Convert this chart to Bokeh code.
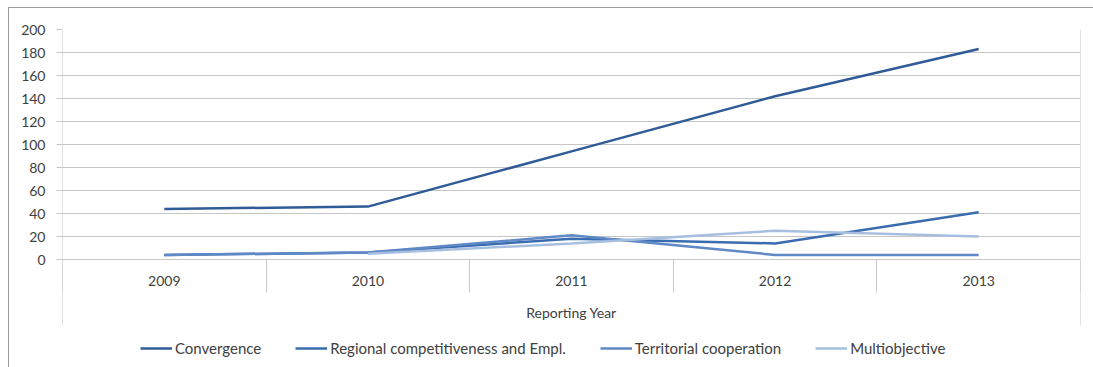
from bokeh.plotting import figure
from bokeh.models import Range1d, FixedTicker, Legend, LegendItem, LinearAxis
from bokeh.embed import file_html
from bokeh.resources import INLINE

years = ["2009", "2010", "2011", "2012", "2013"]
convergence = [44, 46, 94, 142, 183]
regional = [4, 6, 18, 14, 41]
territorial = [4, 6, 21, 4, 4]
multiobjective = [None, 5, 14, 25, 20]
series_names = ["Convergence", "Regional competitiveness and Empl.",
                "Territorial cooperation", "Multiobjective"]
series_colors = ["#2F5B97", "#3A6CB0", "#5F88C6", "#A6BFE0"]
y_ticks = [0, 20, 40, 60, 80, 100, 120, 140, 160, 180, 200]

FONT = "Lato"
GRID = "#C6C6C6"
TXT = "#404040"

# layout (pixels)
PLOT_H = 230          # height of the 0..200 value area
BELOW_H = 108         # category box + legend below the zero line
BOX_H = 66            # depth of the category box below zero
px_per_unit = PLOT_H / y_ticks[-1]
y_low = -BELOW_H / px_per_unit
box_low = -BOX_H / px_per_unit

xs = [i + 0.5 for i in range(len(years))]
n = len(years)

p = figure(frame_width=1018, frame_height=PLOT_H + BELOW_H, output_backend="svg",
           toolbar_location=None,
           x_range=Range1d(0, n), y_range=Range1d(y_low, y_ticks[-1]),
           min_border_left=53, min_border_top=21, min_border_right=13,
           min_border_bottom=0,
           x_axis_location=None, y_axis_location=None)
p.styles = {"margin-top": "7px", "margin-left": "8px",
            "border-top": "1px solid #9a9a9a", "border-left": "1px solid #9a9a9a"}
p.outline_line_color = None
p.xgrid.visible = False

yax = LinearAxis(ticker=FixedTicker(ticks=y_ticks))
yax.axis_line_color = None
yax.major_tick_line_color = GRID
yax.major_tick_out = 6
yax.major_tick_in = 0
yax.minor_tick_line_color = None
yax.major_label_standoff = 11
yax.major_label_text_font = FONT
yax.major_label_text_font_size = "14px"
yax.major_label_text_color = TXT
p.add_layout(yax, "left")

p.ygrid.ticker = FixedTicker(ticks=y_ticks)
p.ygrid.grid_line_color = GRID

# left and right edges of the chart box
p.segment(x0=[0, n], y0=[y_ticks[-1]] * 2, x1=[0, n], y1=[box_low] * 2,
          line_color=GRID, line_width=1)

xax = LinearAxis(ticker=FixedTicker(ticks=xs, minor_ticks=list(range(n + 1))),
                 axis_label="Reporting Year", fixed_location=0)
xax.major_label_overrides = {x: y for x, y in zip(xs, years)}
xax.axis_line_color = GRID
xax.major_tick_line_color = None
xax.major_tick_out = 0
xax.major_tick_in = 0
xax.minor_tick_line_color = GRID
xax.minor_tick_out = 33
xax.minor_tick_in = 0
xax.major_label_standoff = -17
xax.major_label_text_font = FONT
xax.major_label_text_font_size = "14px"
xax.major_label_text_color = TXT
xax.axis_label_text_font = FONT
xax.axis_label_text_font_size = "14px"
xax.axis_label_text_font_style = "normal"
xax.axis_label_text_color = TXT
xax.axis_label_standoff = 15
p.add_layout(xax, "below")

items = []
for name, vals, col in zip(series_names, [convergence, regional, territorial, multiobjective], series_colors):
    lx = [x for x, v in zip(xs, vals) if v is not None]
    ly = [v for v in vals if v is not None]
    r = p.line(lx, ly, line_color=col, line_width=2.5)
    items.append(LegendItem(label=name, renderers=[r]))

legend = Legend(items=items, orientation="horizontal", location=(78, 9))
legend.label_text_font = FONT
legend.label_text_font_size = "15px"
legend.label_text_color = TXT
legend.glyph_width = 32
legend.glyph_height = 20
legend.spacing = 34
legend.label_standoff = 3
legend.padding = 0
legend.margin = 0
legend.border_line_color = None
legend.background_fill_alpha = 0
p.add_layout(legend, "center")

open("out.html", "w").write(file_html(p, INLINE))
